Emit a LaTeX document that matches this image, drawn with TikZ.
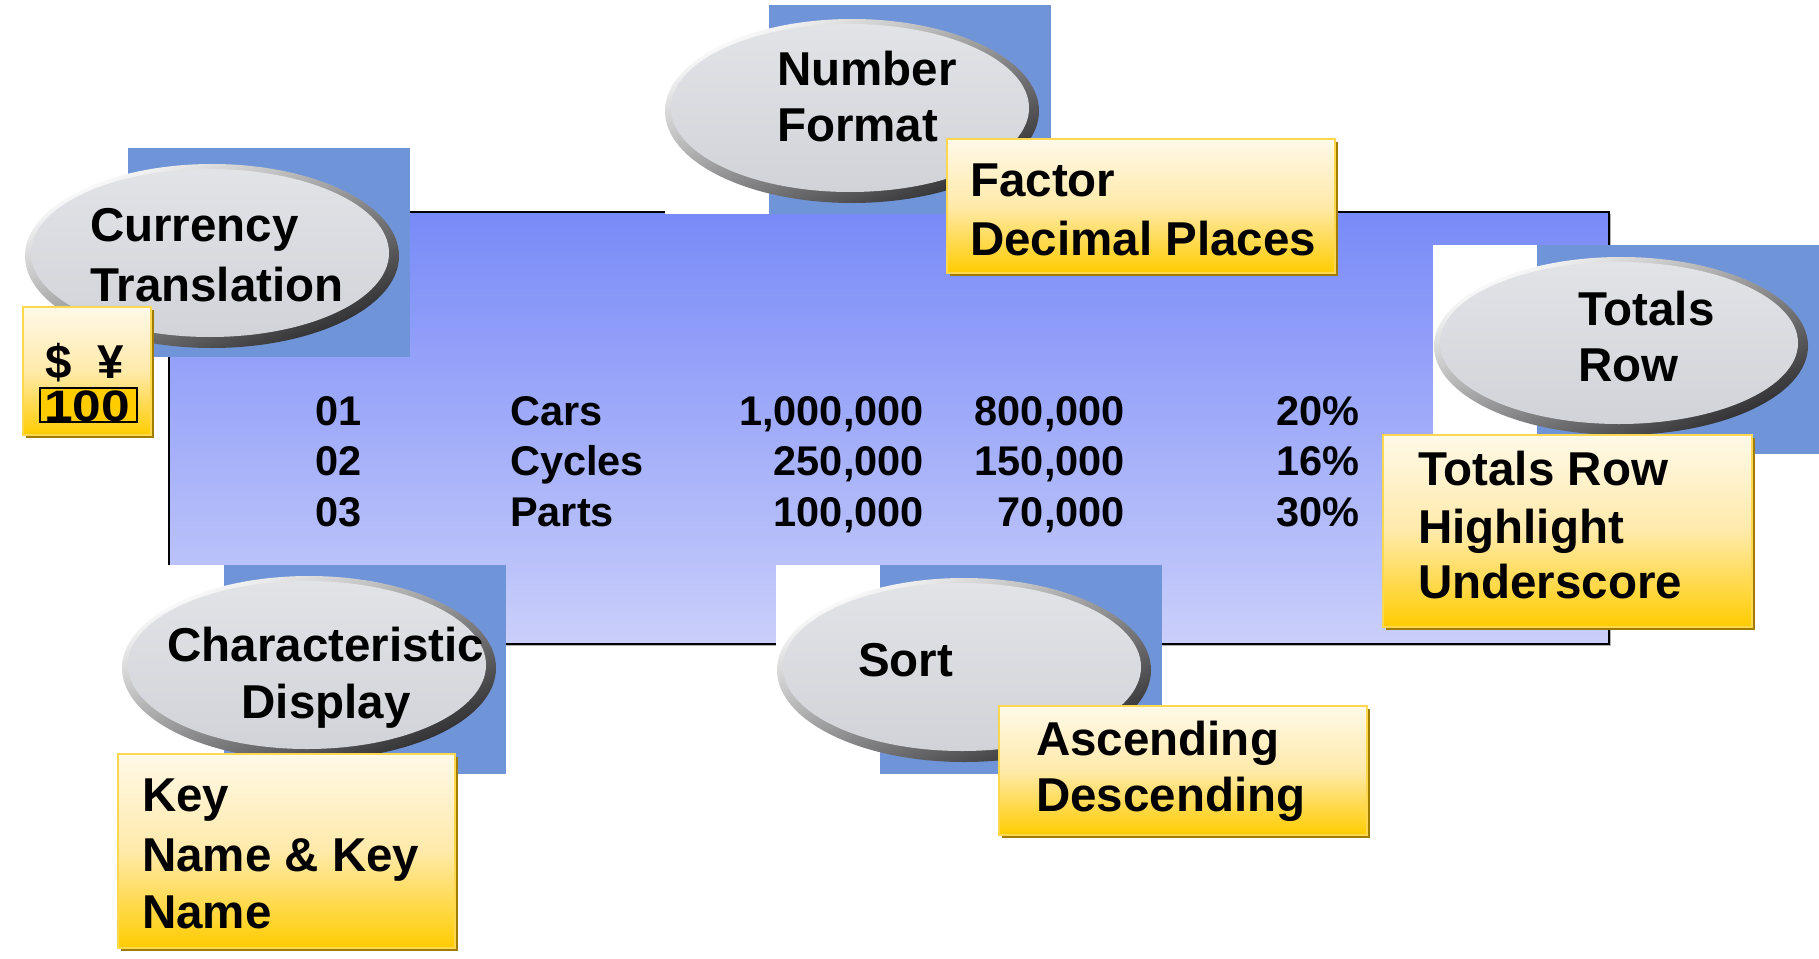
\documentclass[tikz,border=0pt]{standalone}
\usepackage{fontspec}
\usepackage{graphicx}
\setmainfont{Liberation Sans}
\usetikzlibrary{shapes.geometric}
\definecolor{bdblue}{RGB}{112,148,216}
\definecolor{rtop}{RGB}{120,138,248}
\definecolor{rbot}{RGB}{202,207,250}
\definecolor{ycream}{RGB}{255,249,232}
\definecolor{ymid}{RGB}{255,234,170}
\definecolor{ygold}{RGB}{255,204,0}
\definecolor{yedge}{RGB}{255,216,80}
\definecolor{yshadow}{RGB}{160,125,0}
\definecolor{eltop}{RGB}{226,227,231}
\definecolor{elbot}{RGB}{210,211,216}
\definecolor{elrim}{RGB}{45,45,48}
\tikzset{
  lbl/.style={anchor=base west, inner sep=0pt, font=\bfseries\fontsize{47.5}{56}\selectfont},
  lblc/.style={anchor=base, inner sep=0pt, font=\bfseries\fontsize{47.5}{56}\selectfont},
  tbl/.style={anchor=base west, inner sep=0pt, font=\bfseries\fontsize{41.5}{50}\selectfont},
  tblr/.style={anchor=base east, inner sep=0pt, font=\bfseries\fontsize{41.5}{50}\selectfont},
  rim/.style={ellipse, inner sep=0pt, draw=none, top color=white, bottom color=elrim, shading angle=25, minimum width=374pt, minimum height=184pt},
  face/.style={ellipse, inner sep=0pt, draw=none, top color=eltop, bottom color=elbot, minimum width=358pt, minimum height=168pt},
  ybox/.style={fill=ygold, top color=ycream, bottom color=ygold, middle color=ymid, draw=yedge, line width=1.5pt},
}
\newcommand\backdrop[2]{% top-left x, y of the white part
  \fill[white] (#1,#2) rectangle ++(104,209);
  \fill[bdblue] (#1+104,#2) rectangle ++(282,209);
}
\newcommand\yellowbox[4]{%
  \fill[yshadow] (#1+3,#2+3) rectangle (#3,#4);
  \path[ybox] (#1,#2) rectangle (#3-3,#4-3);
}
\begin{document}
\begin{tikzpicture}[x=1pt,y=-1pt]
\useasboundingbox (0,0) rectangle (1819,958);
% main table panel
\fill[gray!60] (171,214) rectangle (1611,646);
\path[top color=rtop, bottom color=rbot, draw=black, line width=2.5pt] (169,212) rectangle (1609,644);
% backdrops
\backdrop{24}{148}
\backdrop{665}{5}
\backdrop{1433}{245}
\backdrop{120}{565}
\backdrop{776}{565}
% ellipses
\node[rim] (curR) at (212,256) {};
\node[face] (curF) at (210,253) {};
\node[rim] (numR) at (852,111) {};
\node[face] (numF) at (850,108) {};
\node[rim, minimum height=178pt] (totR) at (1621,346) {};
\node[face, minimum height=162pt] (totF) at (1619,343) {};
\node[rim] (chrR) at (309,668) {};
\node[face] (chrF) at (307,665) {};
\node[rim] (srtR) at (964,670) {};
\node[face] (srtF) at (962,667) {};
% ellipse labels
\node[lbl] (cur1) at (90,241.7) {Currency};
\node[lbl] (cur2) at (90,301.7) {Translation};
\node[lbl] (num1) at (777,85) {Number};
\node[lbl] (num2) at (777,141.7) {Format};
\node[lbl] (tot1) at (1578,325) {Totals};
\node[lbl] (tot2) at (1578,381.7) {Row};
\node[lblc] (chr1) at (326,661.7) {Characteristic};
\node[lblc] (chr2) at (326,718) {Display};
\node[lbl] (srt1) at (858,676.7) {Sort};
% yellow boxes
\yellowbox{23}{307}{154}{438}
\fill[ygold, draw=black, line width=2pt] (40,388) rectangle (137,422);
\node[lbl] (dol) at (45,378) {\$};
\node[lbl] (yen) at (97,378) {¥};
\node[lblc, font=\bfseries\fontsize{44}{50}\selectfont] (hund) at (87,421.5) {\scalebox{1.17}[1]{100}};
\yellowbox{947}{139}{1338}{276}
\node[lbl] (fac1) at (970,196.7) {Factor};
\node[lbl] (fac2) at (970,255) {Decimal Places};
\yellowbox{1383}{435}{1755}{630}
\node[lbl] (trw1) at (1418,485) {Totals Row};
\node[lbl] (trw2) at (1418,543) {Highlight};
\node[lbl] (trw3) at (1418,598) {Underscore};
\yellowbox{118}{754}{458}{951}
\node[lbl] (key1) at (142,811.7) {Key};
\node[lbl] (key2) at (142,871.7) {Name \& Key};
\node[lbl] (key3) at (142,928) {Name};
\yellowbox{999}{706}{1370}{838}
\node[lbl] (asc1) at (1036,755) {Ascending};
\node[lbl] (asc2) at (1036,811.7) {Descending};
% table
\node[tbl] (r1a) at (315,425) {01};
\node[tbl] (r2a) at (315,475) {02};
\node[tbl] (r3a) at (315,526.7) {03};
\node[tbl] (r1b) at (510,425) {Cars};
\node[tbl] (r2b) at (510,475) {Cycles};
\node[tbl] (r3b) at (510,526.7) {Parts};
\node[tblr] (r1c) at (924,425) {1,000,000};
\node[tblr] (r2c) at (924,475) {250,000};
\node[tblr] (r3c) at (924,526.7) {100,000};
\node[tblr] (r1d) at (1125,425) {800,000};
\node[tblr] (r2d) at (1125,475) {150,000};
\node[tblr] (r3d) at (1125,526.7) {70,000};
\node[tblr] (r1e) at (1360,425) {20\%};
\node[tblr] (r2e) at (1360,475) {16\%};
\node[tblr] (r3e) at (1360,526.7) {30\%};
\end{tikzpicture}
\end{document}
